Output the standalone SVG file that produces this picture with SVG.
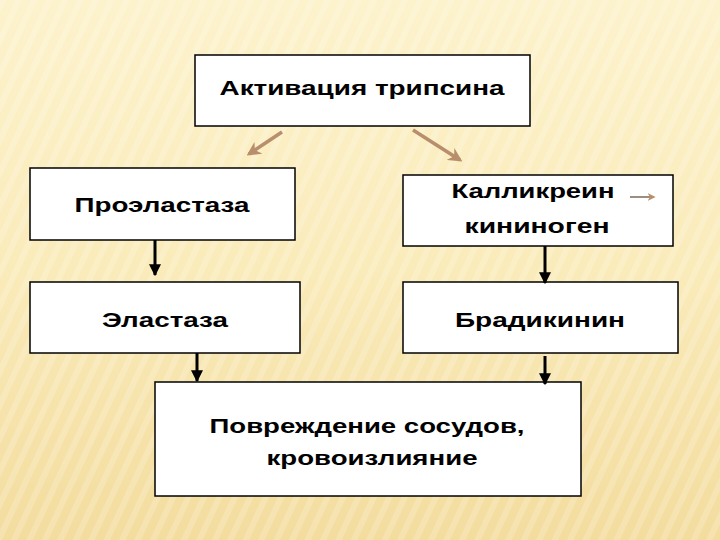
<svg xmlns="http://www.w3.org/2000/svg" width="720" height="540" viewBox="0 0 720 540">
<defs>
<linearGradient id="bg" x1="0" y1="0" x2="0" y2="1">
<stop offset="0" stop-color="#FCF2CC"/>
<stop offset="0.5" stop-color="#FAEBBA"/>
<stop offset="1" stop-color="#F3DC9E"/>
</linearGradient>
<pattern id="stripes" width="14" height="14" patternUnits="userSpaceOnUse" patternTransform="rotate(25)">
<rect width="6" height="14" fill="#FFFFFF" opacity="0.18"/>
</pattern>
<marker id="bk" viewBox="0 0 10 10" refX="9" refY="5" markerWidth="4" markerHeight="4" orient="auto">
<path d="M0,0 L10,5 L0,10 z" fill="#000"/>
</marker>
<marker id="br" viewBox="0 0 10 10" refX="8" refY="5" markerWidth="4" markerHeight="4" orient="auto">
<path d="M0,0 L10,5 L0,10 L3,5 z" fill="#B88E6C"/>
</marker>
</defs>
<style>
.box{fill:#FFFFFF;stroke:#000;stroke-width:1.5}
.t{font-family:"Liberation Sans",Arial,sans-serif;font-size:21px;font-weight:bold;fill:#000;text-anchor:middle}
.bl{stroke:#000;stroke-width:3;fill:none;marker-end:url(#bk)}
.brn{stroke:#B88E6C;stroke-width:3.5;fill:none;marker-end:url(#br)}
</style>
<rect width="720" height="540" fill="url(#bg)"/>
<rect width="720" height="540" fill="url(#stripes)"/>
<g id="n1"><rect class="box" x="195" y="55" width="335" height="71"/><text class="t" x="362" y="95" textLength="285" lengthAdjust="spacingAndGlyphs">Активация трипсина</text></g>
<g id="n2"><rect class="box" x="30" y="168" width="265" height="72"/><text class="t" x="162" y="212" textLength="175" lengthAdjust="spacingAndGlyphs">Проэластаза</text></g>
<g id="n3"><rect class="box" x="403" y="175" width="270" height="71"/><text class="t" x="533" y="198" textLength="163" lengthAdjust="spacingAndGlyphs">Калликреин</text><text class="t" x="537" y="233" textLength="145" lengthAdjust="spacingAndGlyphs">кининоген</text>
<line x1="630" y1="197" x2="654" y2="197" stroke="#9E8E80" stroke-width="2" marker-end="url(#br)"/></g>
<g id="n4"><rect class="box" x="30" y="282" width="270" height="71"/><text class="t" x="165" y="327" textLength="126" lengthAdjust="spacingAndGlyphs">Эластаза</text></g>
<g id="n5"><rect class="box" x="403" y="282" width="275" height="71"/><text class="t" x="540" y="327" textLength="170" lengthAdjust="spacingAndGlyphs">Брадикинин</text></g>
<g id="n6"><rect class="box" x="155" y="382" width="426" height="114"/><text class="t" x="367" y="433" textLength="315" lengthAdjust="spacingAndGlyphs">Повреждение сосудов,</text><text class="t" x="372" y="465" textLength="211" lengthAdjust="spacingAndGlyphs">кровоизлияние</text></g>
<g id="edges">
<line class="brn" x1="282" y1="132" x2="249" y2="154"/>
<line class="brn" x1="413" y1="130" x2="460" y2="160"/>
<line class="bl" x1="155" y1="240" x2="155" y2="275"/>
<line class="bl" x1="545" y1="246" x2="545" y2="283"/>
<line class="bl" x1="197" y1="353" x2="197" y2="381"/>
<line class="bl" x1="545" y1="356" x2="545" y2="384"/>
</g>
</svg>
